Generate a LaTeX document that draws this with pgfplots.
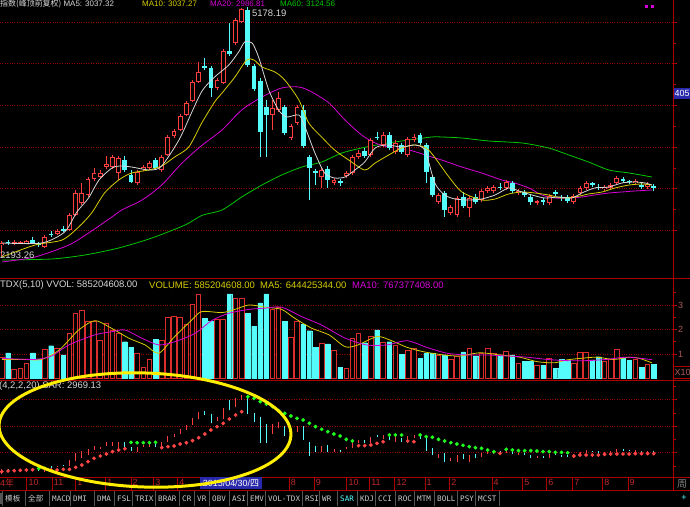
\documentclass[border=0pt]{standalone}
\usepackage{pgfplots}
\pgfplotsset{compat=1.18}
\usepackage{pgfplotstable}
\usepackage{fontspec}
\setmainfont{Liberation Sans}
\setmonofont{DejaVu Sans Mono}
\newfontfamily\cjk{Noto Sans CJK SC}
\newcommand\fs[1]{\fontsize{#1}{#1}\selectfont}

\definecolor{upred}{RGB}{255,62,62}
\definecolor{volred}{RGB}{220,45,45}
\definecolor{dncyan}{RGB}{84,252,252}
\definecolor{maw}{RGB}{215,215,215}
\definecolor{may}{RGB}{215,205,0}
\definecolor{mam}{RGB}{215,0,215}
\definecolor{mag}{RGB}{0,200,0}
\definecolor{gridred}{RGB}{150,0,0}
\definecolor{framered}{RGB}{170,0,0}
\definecolor{sarred}{RGB}{255,70,70}
\definecolor{sargreen}{RGB}{30,255,30}
\definecolor{datered}{RGB}{190,40,40}
\definecolor{labred}{RGB}{170,90,90}
\definecolor{tabgray}{RGB}{205,205,205}
\definecolor{sepgray}{RGB}{85,85,85}
\definecolor{boxblue}{RGB}{40,40,170}
\definecolor{ringyellow}{RGB}{255,238,0}

% weekly candles: index, open, high, low, close, volume (x 1e9)
\pgfplotstableread{
k o h l c v
0 2326 2374 2193 2350 0.84
2 2338 2386 2320 2362 0.35
3 2344 2374 2332 2362 0.43
4 2350 2386 2338 2374 0.63
7 2306 2446 2290 2426 1.20
9 2458 2518 2446 2498 1.24
11 2506 2710 2494 2686 1.82
12 2686 2986 2674 2954 2.66
13 2830 3074 2806 2954 2.77
14 2926 3142 2902 3118 2.32
15 3118 3250 3094 3190 2.32
16 3146 3226 3130 3194 1.57
17 3262 3394 3238 3298 2.25
18 3262 3406 3238 3382 1.98
19 3190 3394 3106 3370 1.82
22 3070 3226 3046 3202 1.03
23 3238 3286 3214 3262 0.46
24 3250 3334 3226 3310 0.78
26 3226 3406 3202 3382 1.54
27 3406 3646 3394 3622 2.50
28 3634 3718 3610 3698 2.55
29 3706 3898 3694 3874 2.50
30 3886 4054 3874 4034 2.22
31 4058 4306 4042 4286 3.04
32 4286 4522 4270 4406 3.41
35 4210 4330 4186 4306 2.39
36 4274 4678 4258 4654 2.42
38 4750 5050 4726 5026 3.27
39 5006 5170 4990 5158 3.27
44 3886 4066 3706 3970 2.82
45 3946 4162 3922 4090 2.91
47 3610 3778 3586 3754 1.68
48 3790 4006 3766 3982 2.32
52 3142 3250 3010 3226 1.44
54 3070 3130 3046 3106 1.16
56 3154 3214 3130 3190 0.42
57 3190 3406 3166 3382 1.64
58 3382 3466 3358 3430 1.82
60 3406 3610 3382 3586 1.71
62 3526 3682 3502 3646 1.46
64 3442 3586 3418 3550 1.33
66 3406 3622 3382 3598 1.16
67 3586 3658 3562 3622 1.23
71 2842 2950 2818 2926 0.96
73 2710 2806 2686 2782 0.76
74 2686 2914 2662 2890 0.92
76 2770 2914 2662 2890 1.23
78 2866 2998 2842 2974 1.03
79 2974 3034 2950 3010 1.23
80 2974 3046 2950 3022 1.03
82 3010 3106 2986 3082 1.09
84 2950 2998 2926 2974 0.62
87 2830 2866 2806 2848 0.55
89 2830 2938 2806 2914 0.82
93 2842 2938 2818 2914 0.62
94 2950 3034 2926 3010 1.05
95 3010 3094 2986 3070 1.05
98 2998 3046 2974 3022 0.69
99 3010 3070 2986 3046 0.78
100 3070 3154 3046 3130 1.19
103 3070 3118 3046 3094 0.78
105 3022 3082 2998 3058 0.58
}\upC

\pgfplotstableread{
k o h l c v
1 2362 2386 2326 2344 1.05
5 2386 2422 2338 2354 1.05
6 2350 2362 2302 2326 0.80
8 2458 2494 2422 2446 1.34
10 2512 2554 2482 2498 0.96
20 3346 3394 3202 3226 1.50
21 3166 3226 3070 3086 1.27
25 3346 3370 3226 3250 1.60
33 4474 4570 4426 4450 2.46
34 4450 4474 4106 4210 2.32
37 4654 4990 4594 4618 3.45
40 5146 5178.19 4462 4486 2.66
41 4474 4498 4174 4198 2.14
42 4298 4330 3386 3686 3.09
43 3982 4066 3386 3886 3.45
46 3982 4006 3646 3670 2.32
49 3946 4006 3490 3514 2.22
50 3382 3406 2866 3250 1.95
51 3214 3238 3046 3190 1.27
53 3238 3274 3010 3106 1.41
55 3094 3118 3034 3070 0.46
59 3458 3490 3370 3394 1.46
61 3622 3682 3586 3604 1.98
63 3646 3682 3466 3490 1.50
65 3526 3550 3418 3442 1.00
68 3646 3670 3526 3550 0.82
69 3526 3550 3070 3202 1.03
70 3142 3166 2902 2926 1.03
72 2950 2974 2662 2746 0.96
75 2902 2962 2770 2794 1.09
77 2902 2938 2818 2842 0.92
81 3016 3070 2986 3004 0.96
83 3070 3094 2950 2974 0.96
85 2962 2986 2902 2926 0.69
86 2902 2926 2806 2842 0.69
88 2860 2890 2806 2842 0.55
90 2956 2986 2914 2938 0.42
91 2902 2926 2854 2890 0.78
92 2902 2926 2830 2854 0.73
96 3064 3082 3022 3046 0.76
97 3016 3058 2986 3004 0.89
101 3118 3142 3070 3094 0.82
102 3088 3106 3058 3076 0.73
104 3046 3070 2998 3022 0.46
106 3034 3058 2974 3010 0.585
}\dnC

\pgfplotstableread{
k p
0 2350
6.5 2350
10.2 2482
12.2 2722
14.1 2890
15.8 3106
17.9 3250
19.2 3274
21.1 3262
22.8 3238
24.4 3226
26.0 3274
28.8 3586
30.9 3922
32.6 4180
34.6 4342
36.9 4486
38.5 4642
39.5 4762
40.7 4750
41.8 4570
43.4 4186
45.0 3946
46.3 3862
48.3 3886
49.3 3742
50.9 3430
52.5 3190
54.1 3130
55.8 3142
57.4 3226
59.0 3322
60.7 3490
62.6 3526
65.0 3502
67.2 3526
68.8 3460
70.4 3070
72.0 2926
73.7 2878
75.9 2866
78.0 2878
80.2 2926
82.4 3010
84.1 2974
86.2 2926
88.3 2890
90.6 2902
92.7 2890
94.3 2950
96.4 3010
98.7 3022
100.8 3070
102.9 3082
104.6 3070
105.7 3046
}\maFive

\pgfplotstableread{
k p
0 2182
5.4 2326
9.8 2386
12.5 2542
14.6 2710
16.7 2950
19.0 3106
21.1 3190
23.9 3226
26.0 3274
28.1 3382
30.4 3502
32.5 3790
34.6 4042
35.8 4150
37.9 4342
39.8 4546
41.0 4546
42.3 4462
44.4 4402
46.0 4306
48.3 4066
49.9 3790
52.0 3622
54.1 3466
56.4 3346
59.0 3226
60.7 3310
62.9 3406
65.0 3490
67.2 3526
69.4 3466
72.7 3142
74.8 2962
78.0 2866
80.2 2878
82.4 2938
84.6 2962
86.7 2950
88.9 2926
91.1 2890
93.2 2902
95.4 2938
97.6 2962
99.7 3010
102.0 3046
104.1 3058
105.7 3046
}\maTen

\pgfplotstableread{
k p
0 2122
5.4 2182
10.9 2326
14.1 2470
17.9 2662
19.5 2746
22.8 2866
26.0 3046
29.3 3310
32.5 3520
35.8 3706
39.0 3946
42.3 4102
45.5 4210
48.3 4222
50.4 4162
53.2 4030
55.8 3826
58.5 3646
60.7 3550
62.9 3502
66.2 3466
69.9 3382
71.5 3346
74.8 3262
78.0 3190
81.3 3106
83.4 3070
85.7 3010
87.8 2926
89.9 2890
92.2 2890
94.3 2902
96.4 2926
98.7 2950
100.8 2962
102.9 2974
105.7 2986
}\maTwenty

\pgfplotstableread{
k p
0 2146
8.1 2158
13.5 2206
19.0 2290
24.4 2410
29.8 2566
32.5 2680
35.8 2746
39.0 2902
42.3 3046
45.5 3166
48.8 3262
52.0 3322
55.3 3430
58.5 3490
61.8 3538
65.0 3574
69.9 3622
71.5 3622
74.8 3610
79.2 3574
84.6 3550
88.9 3490
92.2 3406
95.4 3322
98.7 3226
102.0 3190
105.7 3142
}\maSixty

\pgfplotstableread{
k v
0 0.78
3.3 0.78
6.5 0.78
9.3 1.16
12.5 1.98
15.1 2.36
17.4 2.11
20.7 1.64
23.3 1.37
25.5 1.03
28.1 1.71
30.9 2.39
32.5 2.73
35.8 2.69
37.9 2.82
40.2 3.00
42.8 2.91
45.5 2.82
47.6 2.46
50.4 2.05
53.2 1.78
55.8 1.30
57.7 1.35
61.0 1.71
63.1 1.57
65.9 1.27
68.6 1.09
71.9 0.96
74.5 0.92
77.7 1.05
81.0 0.96
84.2 0.87
87.0 0.69
89.8 0.64
91.9 0.76
94.0 0.82
96.7 0.87
99.5 0.78
102.1 0.87
103.7 0.82
105.7 0.64
}\vmaFive

\pgfplotstableread{
k v
0 0.82
5.4 0.78
8.1 0.92
10.9 1.37
15.1 1.78
17.9 1.91
20.0 1.98
22.8 1.64
25.5 1.37
28.1 1.50
31.4 1.84
34.1 2.36
36.9 2.66
40.2 2.82
42.8 2.87
45.5 2.91
48.8 2.52
52.0 2.18
55.8 1.65
59.3 1.37
62.6 1.37
65.9 1.54
69.1 1.27
72.4 1.03
75.6 0.96
78.9 0.96
82.1 0.92
85.4 0.87
88.6 0.78
91.9 0.73
95.1 0.73
98.4 0.78
101.6 0.87
105.7 0.77
}\vmaTen

% SAR(4,2,2,20): r = below price, g = above price
\pgfplotstableread{
k s c
0 2287 r
1 2312 r
2 2325 r
3 2337 r
4 2350 r
5 2362 r
6 2413 g
7 2410 g
8 2350 r
9 2350 r
10 2375 r
11 2375 r
12 2450 r
13 2538 r
14 2664 r
15 2790 r
16 2878 r
17 2953 r
18 3041 r
19 3104 r
20 3150 r
21 3393 g
22 3380 g
23 3380 g
24 3380 g
25 3393 g
26 3192 r
27 3230 r
28 3255 r
29 3330 r
30 3380 r
31 3456 r
32 3569 r
33 3707 r
34 3858 r
35 3984 r
36 4110 r
37 4273 r
38 4424 r
39 4549 r
40 5115 g
41 5052 g
42 4927 g
43 4839 g
44 4738 g
45 4587 g
46 4487 g
47 4386 g
48 4298 g
49 4235 g
50 4110 g
51 3984 g
52 3883 g
53 3795 g
54 3707 g
55 3632 g
56 3506 g
57 3443 g
58 3267 r
59 3267 r
60 3292 r
61 3355 r
62 3418 r
63 3670 g
64 3670 g
65 3670 g
66 3443 r
67 3418 r
68 3670 g
69 3607 g
70 3582 g
71 3506 g
72 3443 g
73 3380 g
74 3330 g
75 3280 g
76 3230 g
77 3192 g
78 3167 g
79 3104 g
80 3041 g
81 2978 r
82 3129 g
83 3104 g
84 3079 g
85 3079 g
86 3079 g
87 3066 g
88 3041 g
89 3041 g
90 3016 g
91 3016 g
92 3003 g
93 2878 r
94 2915 r
95 2915 r
96 2915 r
97 2915 r
98 2941 r
99 2953 r
100 2953 r
101 2953 r
102 2953 r
103 2969 r
104 2969 r
105 2969 r
106 2969.13 r
}\sarT

\pgfplotsset{
  panel/.style={
    anchor=south west, scale only axis, width=673bp,
    xmin=-0.3, xmax=109.13, clip=true,
    axis line style={draw=none}, xtick=\empty,
    ytick pos=right, yticklabels={}, tick align=outside,
    major tick length=4bp, minor tick length=2.5bp,
    tick style={framered, line width=0.7bp},
    ymajorgrids, major grid style={gridred, dotted, line width=0.7bp},
  },
  wick/.style={draw=none, mark=none, forget plot,
    error bars/.cd, y dir=plus, y explicit, error mark=none,
    error bar style={draw=#1, line width=0.8bp}},
  body/.style={draw=none, mark=none, forget plot,
    error bars/.cd, y dir=plus, y explicit, error mark=none,
    error bar style={draw=#1, line width=4.8bp}},
  hollow/.style={draw=none, mark=none, forget plot,
    error bars/.cd, y dir=plus, y explicit, error mark=none,
    error bar style={draw=black, line width=2.9bp}},
}

\begin{document}
\begin{tikzpicture}
\fill[black] (0bp,0bp) rectangle (690bp,507bp);

% price panel
\begin{axis}[panel, at={(0bp,229bp)}, height=278bp,
  ymin=1930, ymax=5266,
  ytick={2500,3000,...,5000}, minor ytick={2750,3250,...,4750}]
\addplot[mag, line width=0.8bp, smooth, tension=0.45] table[x=k,y=p] {\maSixty};
\addplot[mam, line width=0.8bp, smooth, tension=0.45] table[x=k,y=p] {\maTwenty};
\addplot[wick=upred] table[x=k, y=l, y error plus expr=\thisrow{h}-\thisrow{l}] {\upC};
\addplot[body=upred] table[x=k, y=o, y error plus expr=\thisrow{c}-\thisrow{o}] {\upC};
\addplot[hollow] table[x=k, y expr=\thisrow{o}+11, y error plus expr={max(\thisrow{c}-\thisrow{o}-22,0)}] {\upC};
\addplot[wick=dncyan] table[x=k, y=l, y error plus expr=\thisrow{h}-\thisrow{l}] {\dnC};
\addplot[body=dncyan] table[x=k, y=c, y error plus expr=\thisrow{o}-\thisrow{c}] {\dnC};
\addplot[may, line width=0.8bp, smooth, tension=0.45] table[x=k,y=p] {\maTen};
\addplot[maw, line width=0.8bp, smooth, tension=0.45] table[x=k,y=p] {\maFive};
\end{axis}

% volume panel
\begin{axis}[panel, at={(0bp,127bp)}, height=102bp,
  ymin=-0.06, ymax=4.1, ytick={1,2,3}, minor ytick={0.5,1.5,2.5,3.5},
  yticklabels={1,2,3}, yticklabel pos=right,
  yticklabel style={text=labred, font=\fs{9}, inner sep=1bp}]
\addplot[ybar, bar width=4.6bp, bar shift=0pt, draw=volred, fill=black, line width=0.9bp] table[x=k,y=v] {\upC};
\addplot[ybar, bar width=4.6bp, bar shift=0pt, draw=dncyan, fill=dncyan, line width=0.3bp] table[x=k,y=v] {\dnC};
\addplot[may, line width=0.8bp, smooth, tension=0.45] table[x=k,y=v] {\vmaFive};
\addplot[mam, line width=0.8bp, smooth, tension=0.45] table[x=k,y=v] {\vmaTen};
\end{axis}

% SAR panel
\begin{axis}[panel, at={(0bp,30bp)}, height=97bp,
  ymin=2086, ymax=5744, ytick={3000,4000,5000}, minor ytick={2500,3500,4500,5500}]
\addplot[wick=upred] table[x=k, y=l, y error plus expr=\thisrow{h}-\thisrow{l}] {\upC};
\addplot[wick=dncyan] table[x=k, y=l, y error plus expr=\thisrow{h}-\thisrow{l}] {\dnC};
\addplot[scatter, only marks, point meta=explicit symbolic,
  scatter/classes={r={mark=*, draw=sarred, fill=sarred, mark size=1.7bp},
                   g={mark=*, draw=sargreen, fill=sargreen, mark size=1.7bp}}]
  table[x=k, y=s, meta=c] {\sarT};
\end{axis}

% date row
\begin{axis}[anchor=south west, at={(0bp,17bp)}, scale only axis, width=673bp, height=13bp,
  xmin=-0.3, xmax=109.13, ymin=0, ymax=1, axis line style={draw=none}, ytick=\empty,
  xtick={4.07,8.2,12.0,16.9,21.0,24.7,28.6,46.7,50.8,56.1,59.8,63.9,68.8,72.8,79.7,84.7,88.6,92.8,97.7,101.8},
  xticklabels={10,11,1,1,2,3,4,8,9,10,11,12,1,2,4,5,6,7,8,9},
  xmajorgrids, major grid style={framered, line width=0.8bp}, major tick length=0pt,
  xticklabel style={anchor=north west, yshift=11bp, xshift=1bp, inner sep=0.5bp, font=\fs{9}, text=datered}]
\end{axis}

\begin{scope}[x=1bp,y=1bp]
% frame lines
\draw[framered, line width=0.9bp] (0,229) -- (690,229) (0,127) -- (690,127)
  (0,30) -- (690,30) (0,17) -- (690,17) (673,17) -- (673,507);
% titles
\node[anchor=base west, inner sep=0, text=maw, font=\fs{8}] at (0,500) {{\cjk 指数(峰顶前复权)} MA5: 3037.32};
\node[anchor=base west, inner sep=0, text=may, font=\fs{8}] at (142,500) {MA10: 3037.27};
\node[anchor=base west, inner sep=0, text=mam, font=\fs{8}] at (210,500) {MA20: 2986.81};
\node[anchor=base west, inner sep=0, text=mag, font=\fs{8}] at (280,500) {MA60: 3124.56};
\node[anchor=west, inner sep=0, text=maw, font=\fs{9.5}] at (252,494) {5178.19};
\node[anchor=west, inner sep=0, text=maw, font=\fs{9.5}] at (0,252) {2193.26};
\node[anchor=west, inner sep=0, text=maw, font=\fs{9.5}] at (0,222) {TDX(5,10) VVOL: 585204608.00};
\node[anchor=west, inner sep=0, text=may, font=\fs{9.5}] at (149,222) {VOLUME: 585204608.00\ \ MA5: 644425344.00};
\node[anchor=west, inner sep=0, text=mam, font=\fs{9.5}] at (352,222) {MA10: 767377408.00};
\node[anchor=west, inner sep=0, text=maw, font=\fs{9.5}] at (-1,121) {(4,2,2,20) SAR: 2969.13};
% right strip
\fill[mam] (645,499) rectangle (648,502);
\fill[mam] (651,499) rectangle (654,502);
\fill[boxblue] (674,408) rectangle (690,419);
\node[anchor=west, inner sep=0, text=white, font=\fs{9}] at (674.5,413.5) {405};
\draw[framered, line width=0.8bp] (673.5,129) rectangle (690,141);
\node[anchor=west, inner sep=0, text=labred, font=\fs{9}] at (674.5,135) {X10};
\node[text=gray, font=\cjk\fs{10}, inner sep=0] at (682,23.5) {周};
\node[text=dncyan, font=\fs{9}, inner sep=0] at (684,9) {+};
% date row extras
\node[anchor=west, inner sep=0, text=datered, font=\fs{9}] at (0,23.5) {4{\cjk 年}};
\fill[boxblue] (200,18) rectangle (262,29.5);
\node[text=white, font=\fs{9}, inner sep=0] at (231,23.5) {2015/04/30/{\cjk 四}};
% tab bar
\fill[sepgray] (0,3) rectangle (3,14);
\foreach \x/\t in {5/{\cjk 模板},28/{\cjk 全部},52/MACD,73/DMI,97/DMA,117/FSL,135/TRIX,158/BRAR,
  182/CR,197/VR,212/OBV,232/ASI,250/EMV,268/VOL-TDX,305/RSI,322/WR,360/KDJ,378/CCI,
  398/ROC,417/MTM,437/BOLL,460/PSY,478/MCST} {
  \draw[sepgray, line width=0.8bp] (\x-2.5,1) -- (\x-2.5,16);
  \node[anchor=west, inner sep=0, text=tabgray, font=\ttfamily\fs{7.6}] at (\x,8.5) {\t};
}
\draw[sepgray, line width=0.8bp] (337.5,1) -- (337.5,16) (499,1) -- (499,16);
\node[anchor=west, inner sep=0, text=dncyan, font=\ttfamily\fs{7.6}] at (340,8.5) {SAR};
% annotation ring
\draw[ringyellow, line width=3bp, rotate around={-2:(145,77)}] (145,77) ellipse [x radius=146bp, y radius=57bp];
\end{scope}

\pgfresetboundingbox
\path (0bp,0bp) rectangle (690bp,507bp);
\end{tikzpicture}
\end{document}
